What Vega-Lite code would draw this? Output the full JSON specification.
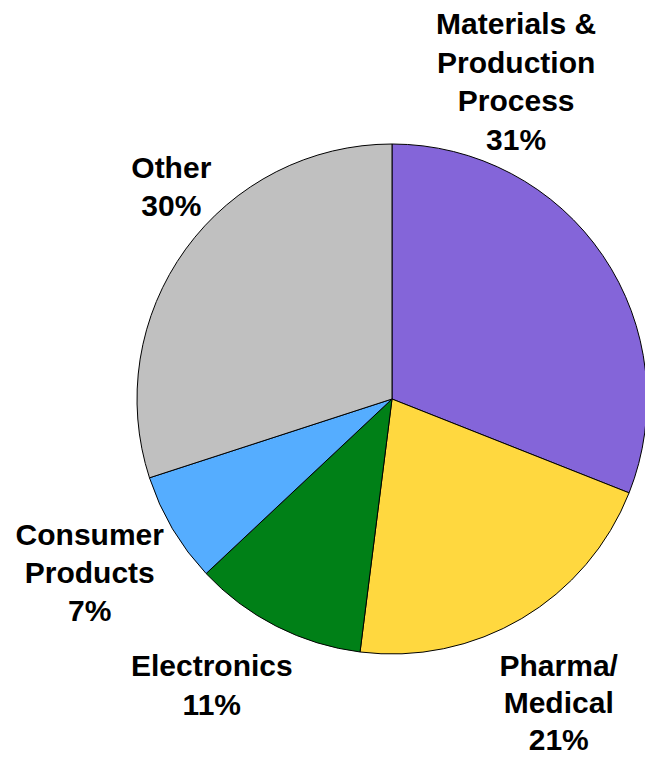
{
  "$schema": "https://vega.github.io/schema/vega-lite/v6.json",
  "autosize": "none",
  "width": 510,
  "height": 510,
  "padding": {"left": 137, "top": 144, "right": 0, "bottom": 103},
  "background": "white",
  "config": {"view": {"stroke": null}},
  "data": {
    "values": [
      {"k": 1, "label": "Materials & Production Process", "text": "Materials &\nProduction\nProcess\n31%", "value": 31},
      {"k": 2, "label": "Pharma/Medical", "text": "Pharma/\nMedical\n21%", "value": 21},
      {"k": 3, "label": "Electronics", "text": "Electronics\n11%", "value": 11},
      {"k": 4, "label": "Consumer Products", "text": "Consumer\nProducts\n7%", "value": 7},
      {"k": 5, "label": "Other", "text": "Other\n30%", "value": 30}
    ]
  },
  "encoding": {
    "theta": {"field": "value", "type": "quantitative", "stack": true},
    "order": {"field": "k", "type": "quantitative"}
  },
  "layer": [
    {
      "mark": {"type": "arc", "stroke": "#000000", "strokeWidth": 1},
      "encoding": {
        "color": {
          "field": "label",
          "type": "nominal",
          "scale": {
            "domain": ["Materials & Production Process", "Pharma/Medical", "Electronics", "Consumer Products", "Other"],
            "range": ["#8465D9", "#FFD83F", "#008017", "#55ADFF", "#C0C0C0"]
          },
          "legend": null
        }
      }
    },
    {
      "mark": {"type": "text", "radius": 300, "dx": -124, "dy": -205, "font": "Liberation Sans", "fontWeight": "bold", "fontSize": 30, "lineHeight": 38.5, "lineBreak": "\n", "align": "center", "baseline": "middle", "color": "#000000"},
      "encoding": {"detail": {"field": "label"}, "text": {"condition": {"test": "datum.k == 1", "field": "text"}, "value": ""}}
    },
    {
      "mark": {"type": "text", "radius": 300, "dx": 14, "dy": 10, "font": "Liberation Sans", "fontWeight": "bold", "fontSize": 30, "lineHeight": 37, "lineBreak": "\n", "align": "center", "baseline": "middle", "color": "#000000"},
      "encoding": {"detail": {"field": "label"}, "text": {"condition": {"test": "datum.k == 2", "field": "text"}, "value": ""}}
    },
    {
      "mark": {"type": "text", "radius": 300, "dx": -44, "dy": 1, "font": "Liberation Sans", "fontWeight": "bold", "fontSize": 30, "lineHeight": 39, "lineBreak": "\n", "align": "center", "baseline": "middle", "color": "#000000"},
      "encoding": {"detail": {"field": "label"}, "text": {"condition": {"test": "datum.k == 3", "field": "text"}, "value": ""}}
    },
    {
      "mark": {"type": "text", "radius": 300, "dx": -44, "dy": -16, "font": "Liberation Sans", "fontWeight": "bold", "fontSize": 30, "lineHeight": 38, "lineBreak": "\n", "align": "center", "baseline": "middle", "color": "#000000"},
      "encoding": {"detail": {"field": "label"}, "text": {"condition": {"test": "datum.k == 4", "field": "text"}, "value": ""}}
    },
    {
      "mark": {"type": "text", "radius": 300, "dx": 22, "dy": -54, "font": "Liberation Sans", "fontWeight": "bold", "fontSize": 30, "lineHeight": 38, "lineBreak": "\n", "align": "center", "baseline": "middle", "color": "#000000"},
      "encoding": {"detail": {"field": "label"}, "text": {"condition": {"test": "datum.k == 5", "field": "text"}, "value": ""}}
    }
  ]
}
